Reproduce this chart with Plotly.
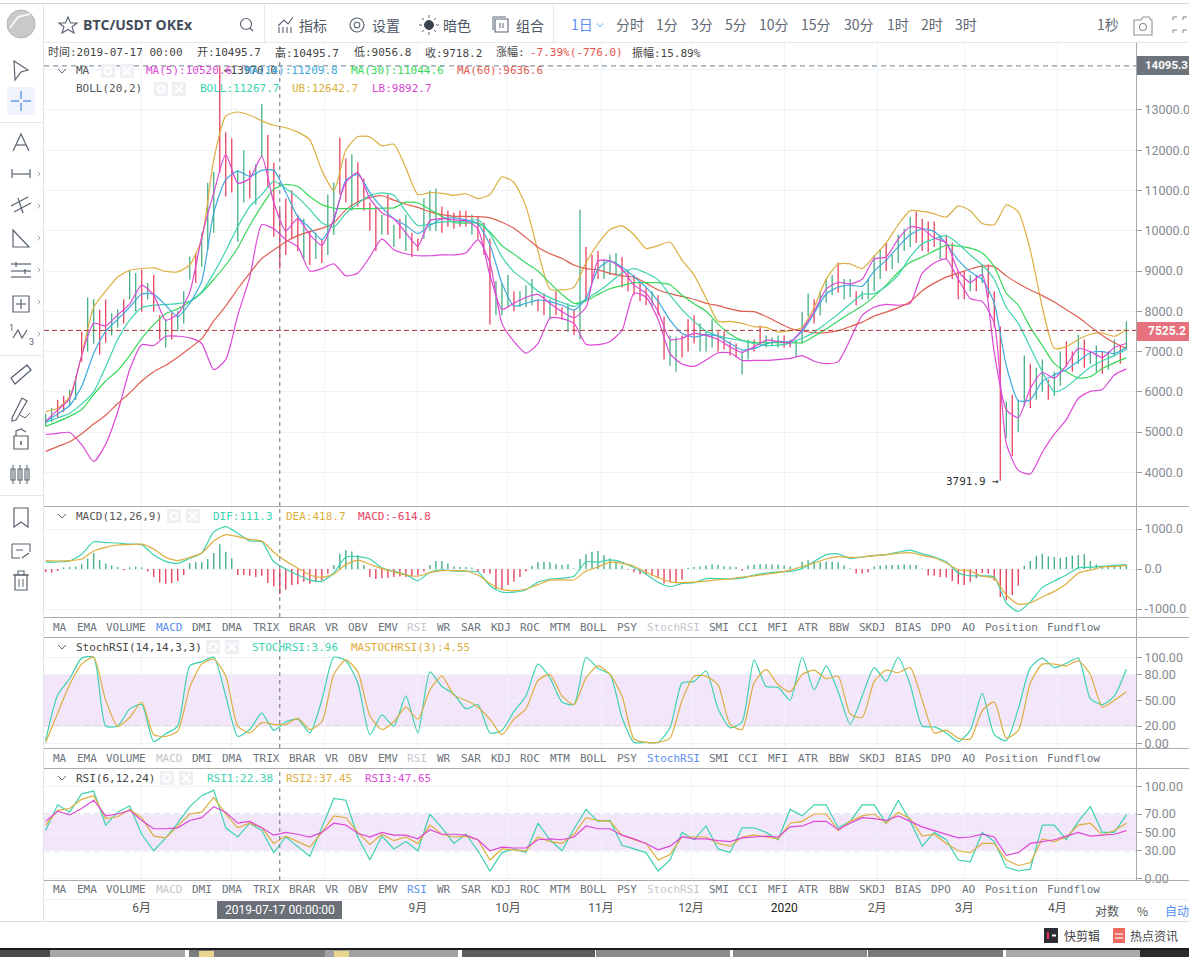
import pandas as pd
import plotly.graph_objects as go

W, H = 1189, 957
MONO = "DejaVu Sans Mono, Noto Sans CJK SC"
SANS = "Roboto, Noto Sans CJK SC"
CJK = "Noto Sans CJK SC, Roboto"

TEAL, GOLD, MAGENTA = "#3cd2b0", "#dcae3e", "#dd48d6"
BLUE, GREEN, REDLINE = "#3fa9dc", "#3ad75a", "#e05f52"
UP, DOWN = "#45b083", "#e8435e"
ICON = "#5a6370"

#--- lines every 4 days, bars every 2 days
line_dates = pd.date_range("2019-04-30", periods=91, freq="4D")
bar_dates = pd.date_range("2019-04-30", periods=181, freq="2D")
month_ticks = ["2019-06-01", "2019-07-01", "2019-08-01", "2019-09-01", "2019-10-01", "2019-11-01",
               "2019-12-01", "2020-01-01", "2020-02-01", "2020-03-01", "2020-04-01"]
month_text = ["6月", "", "", "9月", "10月", "11月", "12月", '<span style="color:#222">2020</span>', "2月", "3月", "4月"]

ma5 = [5260,5550,5830,6900,7700,7640,7910,8180,8650,8400,
       7780,7930,8470,9850,10940,11900,11180,11300,11850,10700,
       10000,10300,9900,9640,10300,11200,11450,10800,10450,10300,
       9950,9620,10250,10300,10270,10250,10050,8900,8050,8200,
       8350,8420,8200,7990,7840,8100,9250,9250,9050,8650,
       8450,8000,7300,7330,7450,7400,7300,7120,6980,7120,
       7280,7250,7220,7550,8000,8550,8720,8680,8800,9300,
       9350,9800,10100,10050,9820,9700,9000,8720,8910,6970,
       5550,5360,6080,6480,6340,6650,7080,7000,6850,7100,
       7200]
ma14 = [5260,5450,5660,6130,6950,7500,7800,8100,8430,8420,
        8150,7870,8200,8750,10450,11270,11480,11350,11500,11500,
        10950,10350,10070,9780,10250,11250,11400,10950,10580,10300,
        10130,9930,10130,10300,10320,10270,10170,9650,8700,8130,
        8200,8280,8240,8150,8030,8320,9050,9250,9100,8860,
        8600,8250,7780,7450,7360,7420,7380,7200,7040,7080,
        7190,7250,7250,7500,7950,8430,8600,8650,8620,9000,
        9270,9600,9900,10050,9980,9680,9270,8980,8790,8200,
        6650,5780,5800,6260,6420,6550,6760,6970,7000,6950,
        7100]
ma30 = [5140,5260,5390,5560,5930,6270,6530,6900,7330,7670,
        7940,8060,8230,8460,8790,9150,9580,10130,10620,11030,
        11150,11100,10850,10650,10560,10550,10550,10550,10560,10570,
        10710,10690,10530,10360,10210,10190,10190,9970,9630,9420,
        9200,9000,8700,8420,8200,8260,8420,8560,8640,8710,
        8710,8710,8660,8400,8190,8000,7680,7430,7280,7230,
        7220,7220,7220,7220,7380,7560,7760,7950,8130,8370,
        8650,8970,9220,9350,9500,9640,9620,9570,9450,9110,
        8450,8150,7600,7150,6700,6500,6340,6380,6580,6720,
        6850]
ma60 = [4520,4640,4760,4960,5200,5420,5710,5970,6270,6500,
        6660,6860,7080,7320,7760,8130,8560,8950,9310,9520,
        9730,9880,9980,10060,10200,10520,10720,10830,10870,10760,
        10660,10580,10470,10400,10360,10360,10350,10320,10210,10060,
        9830,9590,9430,9310,9150,9060,9030,8940,8880,8850,
        8700,8530,8440,8370,8300,8200,8140,8060,8000,7990,
        7870,7720,7580,7510,7470,7470,7520,7620,7730,7880,
        7980,8090,8240,8510,8700,8850,8950,9050,9120,9110,
        8880,8690,8530,8390,8230,8040,7850,7620,7400,7220,
        7080]
boll = [5240,5350,5470,5700,6000,6620,7300,7780,8090,8150,
        8170,8190,8250,8480,8950,9500,10100,10600,10900,11230,
        11050,10830,10530,10200,10090,10430,10680,10880,10940,10880,
        10480,10130,10160,10220,10220,10240,10270,9930,9350,8980,
        8750,8500,8340,8220,8120,8300,8490,8710,8960,9060,
        8950,8780,8400,8040,7750,7510,7390,7320,7270,7200,
        7150,7160,7210,7330,7480,7700,7930,8180,8420,8440,
        8620,8900,9350,9680,9800,9880,9680,9400,9150,8790,
        8100,7700,7100,6500,6000,6120,6370,6610,6770,6900,
        7050]
boll_up = [5510,5590,5880,6900,8100,8500,8850,9020,9060,9080,
           8990,8980,9150,9800,11760,12850,12950,12870,12730,12620,
           12560,12450,12260,11500,11000,12000,12340,12330,12110,12150,
           11560,10900,10950,10930,10880,10920,10800,10900,11340,11200,
           10600,9500,8550,8530,8600,9210,9680,10030,10120,9900,
           9560,9630,9720,9270,8900,8330,7750,7750,7700,7620,
           7600,7490,7520,7600,8100,8800,9170,9180,9060,9370,
           9700,10150,10500,10480,10420,10340,10620,10500,10180,10150,
           10640,10470,9520,8100,7080,7120,7300,7430,7460,7380,
           7550]
boll_low = [4940,4970,4990,4690,4270,4700,5500,6550,7170,7150,
            7380,7380,7340,7200,6550,6800,7900,8850,10150,10050,
            9780,9600,9000,9060,9180,8880,8950,9350,9800,9530,
            9430,9380,9380,9400,9400,9450,9780,9200,7700,7250,
            6960,7200,7830,7820,7700,7180,7170,7250,7530,8450,
            8350,7800,6950,6690,6630,6790,6970,6970,6780,6780,
            6780,6800,6830,6900,6760,6700,6750,7300,7900,8100,
            8170,8150,8200,8950,9200,9300,8800,8320,8240,7700,
            4720,4050,3960,4500,4950,5310,5840,6010,6060,6420,
            6570]

bar_high = [5450,5600,5800,5900,6050,6400,7500,8340,8300,8040,
            8290,7950,8050,8300,9000,8950,9030,8700,8900,7900,
            7800,7960,8000,8500,9360,9450,9950,11190,11460,14095,
            12450,12300,11510,12000,11500,11650,13150,12380,11690,10520,
            10800,11000,10400,10300,10000,9950,9800,10900,11200,12310,
            11800,11900,11700,11300,10700,10600,10400,10900,10150,10300,
            10400,9950,9800,10800,11000,11050,10600,10500,10450,10500,
            10500,10400,10350,10200,9800,8750,8700,8900,8500,8500,
            8650,8800,8300,8450,8300,8500,8100,8200,8040,10520,
            9600,9400,9500,9300,9400,9450,9350,9000,8900,8700,
            8600,8500,8400,7870,7400,7370,7400,7800,7900,7700,
            7500,7800,7500,7500,7250,7200,7000,7300,7300,7650,
            7400,7350,7400,7400,7300,7300,7990,8440,8300,8500,
            8790,8900,9210,8800,8800,8500,8500,8800,9400,9550,
            9700,9400,9900,10050,10350,10470,10300,10230,10230,9900,
            9900,9700,9000,9000,8900,8900,9160,9160,8500,7620,
            5760,5930,5800,6900,6700,6600,6800,6300,6500,7000,
            7250,7000,7420,7300,7000,7150,7000,7000,7300,7150,
            7750]
bar_low = [5150,5250,5350,5500,5650,5800,6750,7000,7200,6930,
           7220,7400,7600,7700,8300,8000,7990,8300,7990,7300,
           7100,7300,7500,7700,8790,8700,9100,9530,9950,11440,
           10850,10950,9730,10700,10800,10650,11840,11070,9850,9056,
           9400,9800,9500,9300,9150,9300,9200,9400,9900,10900,
           10700,10500,10600,10500,10000,9500,9900,9900,9600,9800,
           9500,9350,9500,9800,10000,10000,9950,10100,10050,10100,
           10100,9900,9800,9400,7670,7900,7900,8100,8000,8100,
           8100,8150,8000,7900,7800,7900,7800,7500,7420,7300,
           8300,8700,8800,8800,8900,8900,8600,8500,8400,8250,
           8150,8100,7900,6800,6650,6500,6850,7000,7200,7000,
           7000,7100,7000,7050,6900,6850,6430,6800,7000,7150,
           7100,7150,7100,7100,7100,6880,7200,7870,7700,7900,
           8210,8400,8460,8300,8350,8150,8300,8300,8500,8800,
           9000,9050,9200,9500,9600,9700,9500,9460,9600,9300,
           9300,8800,8300,8300,8500,8500,8700,8340,7600,3792,
           4850,4400,5000,5640,5600,5800,6000,5800,5900,6150,
           6630,6500,6700,6600,6700,6500,6450,6550,6900,6700,
           7050]
bar_side = ("ggrrggrggr" "rggrggrgrr" "grgggrgggr" "rrggrggrrr" "rrrgrgrggr"
            "rgrrrrgrgr" "grrgggrrrr" "rgrrrgggrg" "ggrrgrrgrg" "rrrgggrrrr"
            "rgrrggrrrg" "ggrrrrggrr" "gggrrgggrg" "ggrggrgggg" "rggggrrrrg"
            "rrrrgrgrrr" "grggrggrgg" "rrgrggrggr" "g")

dif = [170,180,200,370,680,660,650,620,610,350,
       190,140,270,400,930,1060,890,700,680,180,
       0,-150,-280,-310,-100,300,310,250,30,-60,
       -140,-290,-80,-20,-50,-60,-70,-420,-580,-580,
       -520,-330,-250,-230,-180,180,170,230,170,30,
       -130,-330,-440,-360,-340,-240,-240,-250,-230,-150,
       -100,-70,-60,10,190,360,380,260,300,340,
       360,420,470,380,300,180,-100,-170,-170,-200,
       -850,-1060,-820,-460,-300,-150,30,40,70,90,
       111]
dea = [210,200,210,250,450,540,600,610,620,500,
       290,210,290,400,700,860,810,740,700,420,
       200,20,-150,-210,-130,110,220,120,10,-70,
       -150,-180,-90,-40,-40,-50,-150,-360,-510,-540,
       -500,-390,-280,-270,-270,-50,50,170,140,70,
       -80,-210,-320,-340,-330,-300,-270,-250,-200,-170,
       -130,-90,-30,60,150,250,310,290,300,330,
       360,390,410,340,280,150,-20,-50,-180,-230,
       -650,-880,-850,-700,-560,-370,-100,-30,50,60,
       90]
macd_hist = [-80,-90,-50,40,50,60,120,260,400,230,
             130,90,50,-30,40,60,40,-60,-200,-340,
             -370,-350,-300,-150,150,170,170,250,400,620,
             430,270,-150,-150,-170,-200,-170,-350,-440,-630,
             -520,-400,-380,-320,-370,-330,-290,-120,100,380,
             470,440,350,100,-200,-250,-230,-220,-200,-190,
             -200,-190,-150,-60,100,200,200,140,60,50,
             50,40,-60,-100,-110,-500,-520,-400,-320,-200,
             -60,80,170,180,170,120,100,120,20,250,
             370,430,450,350,260,180,90,-20,-80,-130,
             -150,-170,-230,-360,-330,-330,-260,30,50,60,
             90,120,100,70,60,50,-40,90,110,120,
             120,110,110,90,60,40,180,220,190,170,
             180,180,170,90,20,-110,-110,-80,60,90,
             100,100,100,110,100,100,10,-160,-170,-200,
             -210,-300,-380,-400,-320,-230,-100,-110,-290,-700,
             -780,-650,-420,80,200,330,380,320,300,280,
             300,330,350,370,200,120,60,80,90,80,
             100]

stoch = [3,56,75,99,100,20,20,40,45,2,
         11,20,90,95,100,55,8,16,35,15,
         25,28,12,50,100,96,70,10,33,20,
         55,12,83,66,57,40,45,12,15,37,
         55,92,76,48,45,100,87,80,30,1,
         1,1,18,70,72,84,40,18,25,97,
         66,65,50,100,62,90,60,22,55,88,
         72,100,68,20,19,12,2,15,58,10,
         3,40,88,99,88,93,99,52,45,55,
         86]
mastoch = [1,35,68,92,100,50,20,30,48,10,
           8,14,65,92,98,78,20,12,24,22,
           22,29,16,25,80,97,83,32,16,25,
           42,28,62,78,56,50,42,28,10,28,
           40,73,80,55,45,76,90,80,55,5,
           1,1,6,50,78,78,68,22,16,70,
           86,68,60,80,85,75,78,34,30,72,
           85,82,88,50,12,15,6,5,38,48,
           6,15,70,92,92,90,96,80,42,50,
           60]

rsi1 = [52,80,72,92,95,58,72,79,48,30,
        44,60,78,90,96,55,45,60,52,28,
        45,35,24,55,87,85,45,20,46,32,
        40,30,70,55,38,48,30,8,28,32,
        28,60,42,30,54,75,62,63,36,32,
        28,8,20,50,42,57,32,28,55,55,
        50,42,75,68,80,80,55,62,80,80,
        60,85,62,35,50,42,20,18,50,40,
        12,8,10,58,58,42,62,78,50,50,
        69]
rsi2 = [58,74,76,86,90,65,67,75,66,46,
        44,57,70,72,88,70,55,60,55,38,
        46,40,34,50,68,66,50,37,48,41,
        45,38,58,48,45,46,42,20,32,31,
        30,45,40,38,48,66,63,62,47,42,
        38,20,26,45,45,45,38,35,45,47,
        45,43,60,62,70,70,52,62,68,70,
        60,72,65,46,48,38,30,28,38,38,
        20,14,17,43,40,45,58,60,47,52,
        60]
rsi3 = [62,73,69,76,85,68,70,74,63,54,
        54,55,63,66,78,72,60,62,55,47,
        50,48,45,50,60,58,49,45,50,47,
        47,43,53,48,48,47,42,30,34,33,
        33,42,43,42,45,57,54,54,47,43,
        38,31,35,45,43,43,41,40,44,45,
        46,45,56,57,62,62,53,60,66,65,
        63,68,62,56,52,48,44,45,48,45,
        25,28,38,40,42,46,50,46,47,48,
        52]

for s in [ma5, ma14, ma30, ma60, boll, boll_up, boll_low, dif, dea, stoch, mastoch, rsi1, rsi2, rsi3]:
    assert len(s) == len(line_dates), len(s)
assert len(bar_high) == len(bar_low) == len(macd_hist) == len(bar_side) == len(bar_dates)


def px(x):
    return x / W


def py(y):
    return 1 - y / H


def smooth_line(col):
    return dict(color=col, width=1.2, shape="spline", smoothing=0.6)


def sticks(dates, lows, highs, keep, color, yaxis, width):
    # one thin vertical line per kept bar, None breaks the line between bars
    xs, ys = [], []
    for d, lo, hi, k in zip(dates, lows, highs, keep):
        if k:
            xs += [d, d, None]
            ys += [lo, hi, None]
    return go.Scatter(x=xs, y=ys, mode="lines", line=dict(color=color, width=width), yaxis=yaxis)


#--- traces
fig = go.Figure()
fig.add_trace(sticks(bar_dates, bar_low, bar_high, [c == "g" for c in bar_side], UP, "y", 1.3))
fig.add_trace(sticks(bar_dates, bar_low, bar_high, [c == "r" for c in bar_side], DOWN, "y", 1.3))
for vals, col in [(boll_up, GOLD), (boll_low, MAGENTA), (ma60, REDLINE), (ma30, GREEN), (boll, TEAL), (ma14, BLUE), (ma5, MAGENTA)]:
    fig.add_trace(go.Scatter(x=line_dates, y=vals, mode="lines", line=smooth_line(col), yaxis="y"))

zeros = [0] * len(macd_hist)
fig.add_trace(sticks(bar_dates, zeros, macd_hist, [v > 0 for v in macd_hist], UP, "y2", 1.4))
fig.add_trace(sticks(bar_dates, zeros, macd_hist, [v < 0 for v in macd_hist], DOWN, "y2", 1.4))
fig.add_trace(go.Scatter(x=line_dates, y=dif, mode="lines", line=smooth_line(TEAL), yaxis="y2"))
fig.add_trace(go.Scatter(x=line_dates, y=dea, mode="lines", line=smooth_line(GOLD), yaxis="y2"))

fig.add_trace(go.Scatter(x=line_dates, y=stoch, mode="lines", line=smooth_line(TEAL), yaxis="y3"))
fig.add_trace(go.Scatter(x=line_dates, y=mastoch, mode="lines", line=smooth_line(GOLD), yaxis="y3"))

fig.add_trace(go.Scatter(x=line_dates, y=rsi1, mode="lines", line=dict(color=TEAL, width=1.2), yaxis="y4"))
fig.add_trace(go.Scatter(x=line_dates, y=rsi2, mode="lines", line=dict(color=GOLD, width=1.2), yaxis="y4"))
fig.add_trace(go.Scatter(x=line_dates, y=rsi3, mode="lines", line=dict(color=MAGENTA, width=1.2), yaxis="y4"))

#--- page furniture, in window pixels
shapes = []
notes = []


def label(x, y, text, color="#555", size=11, anchor="left", family=MONO, **kw):
    if anchor == "left":
        x -= 2  # annotation box padding
    notes.append(dict(x=px(x), y=py(y), xref="paper", yref="paper", text=text, showarrow=False,
                      xanchor=anchor, yanchor="middle", font=dict(family=family, size=size, color=color), **kw))


def box(x0, y0, x1, y1, fill, layer="above"):
    shapes.append(dict(type="rect", xref="paper", yref="paper", x0=px(x0), x1=px(x1), y0=py(y0), y1=py(y1),
                       fillcolor=fill, line_width=0, layer=layer))


def poly(points, color=ICON, width=1.2, close=False, fill=None):
    d = "M " + " L ".join(f"{px(a):.5f} {py(b):.5f}" for a, b in points) + (" Z" if close else "")
    shapes.append(dict(type="path", xref="paper", yref="paper", path=d, line=dict(color=color, width=width),
                       fillcolor=fill or "rgba(0,0,0,0)", layer="above"))


def ring(cx, cy, r, color=ICON, width=1.2, fill=None):
    shapes.append(dict(type="circle", xref="paper", yref="paper", x0=px(cx - r), x1=px(cx + r), y0=py(cy + r), y1=py(cy - r),
                       line=dict(color=color, width=width), fillcolor=fill or "rgba(0,0,0,0)", layer="above"))


def chevron(cx, cy, r=4, color=ICON):
    poly([(cx - r, cy - r / 2), (cx, cy + r / 2), (cx + r, cy - r / 2)], color, 1)


def legend_buttons(x1, x2, y):
    box(x1 - 7, y - 7, x1 + 7, y + 7, "#eef0f3")
    ring(x1, y, 3.5, "#ffffff", 2)
    box(x2 - 7, y - 7, x2 + 7, y + 7, "#eef0f3")
    poly([(x2 - 4, y - 4), (x2 + 4, y + 4)], "#ffffff", 2)
    poly([(x2 - 4, y + 4), (x2 + 4, y - 4)], "#ffffff", 2)


#--- bands and dashed levels sit on the data axes
for yref, lo, hi in [("y3", 20, 80), ("y4", 30, 70)]:
    shapes.append(dict(type="rect", xref="x domain", yref=yref, x0=0, x1=1, y0=lo, y1=hi, fillcolor="#f3e6fb", line_width=0, layer="below"))
    for lev in (lo, hi):
        shapes.append(dict(type="line", xref="x domain", yref=yref, x0=0, x1=1, y0=lev, y1=lev,
                           line=dict(color="#c9c0cc", width=1, dash="6px,4px"), layer="below"))
shapes.append(dict(type="line", xref="x domain", yref="y", x0=0, x1=1, y0=14095.3, y1=14095.3, line=dict(color="#6b7f90", width=1, dash="5px,4px")))
shapes.append(dict(type="line", xref="x domain", yref="y", x0=0, x1=1, y0=7525.2, y1=7525.2, line=dict(color="#a83a3a", width=1, dash="5px,3px")))
for yref in ("y", "y2", "y3", "y4"):
    shapes.append(dict(type="line", xref="x", yref=yref + " domain", x0="2019-07-17", x1="2019-07-17", y0=0, y1=1,
                       line=dict(color="#666c75", width=1, dash="4px,4px")))

#--- frame lines
box(0, 3, W, 4, "#d4d6d9")
box(44, 42, W, 43, "#e6e8eb")
box(43, 4, 44, 921, "#e1e4e8")
box(264, 4, 265, 42, "#e6e8eb")
box(553, 4, 554, 42, "#e6e8eb")
box(1136, 43, 1137, 880, "#a8a8a8")
for yy in (506, 617, 637, 748, 768, 880):
    box(44, yy, W, yy + 1, "#ababab")
box(44, 899, W, 900, "#eceef0")
box(0, 921, W, 922, "#dcdee0")
box(0, 122, 43, 123, "#e6e8eb")
box(0, 355, 43, 356, "#e6e8eb")
box(0, 495, 43, 496, "#e6e8eb")

#--- task bar along the bottom of the window
box(0, 948, W, 950, "#1a1a1a")
for a, b, c in [(0, 50, "#4a4a4a"), (50, 185, "#a6a6a6"), (189, 325, "#7c7c7c"), (325, 458, "#a0a0a0"), (462, 595, "#5c5c5c"),
                (596, 730, "#8a8a8a"), (733, 867, "#8a8a8a"), (868, 1003, "#7a7a7a"), (1006, 1140, "#a8a8a8"), (1140, W, "#2e2a2a")]:
    box(a, 950, b, H, c)
box(199, 951, 214, H, "#e8d690")
box(334, 951, 349, H, "#e8d690")

#--- top bar
ring(21, 24, 14, "#b5b5b5", 1, "#c9c9c9")
poly([(10, 28), (18, 17), (30, 14)], "#f4f4f4", 2)
poly([(68, 17), (70.5, 23), (77, 23), (72, 27), (74, 33), (68, 29.5), (62, 33), (64, 27), (59, 23), (65.5, 23)], "#5a6370", 1.1, close=True)
label(83, 25, "<b>BTC/USDT OKEx</b>", "#434c5a", 14, family="Open Sans")
ring(246, 24, 5.5, "#5a6370", 1.2)
poly([(250, 28), (253, 31)], "#5a6370", 1.2)

poly([(278, 26), (284, 20), (288, 24), (293, 17)], ICON, 1.1)
for xx in (279, 283, 287, 291):
    poly([(xx, 33), (xx, 27)], ICON, 1.1)
ring(357, 25, 7, ICON, 1.2)
ring(357, 25, 2.8, ICON, 1.1)
ring(429, 25, 4.5, "#3a4250", 1, "#3a4250")
for a, b, c, d in [(429, 15, 429, 18), (429, 32, 429, 35), (419, 25, 422, 25), (436, 25, 439, 25),
                   (422, 18, 424, 20), (434, 30, 436, 32), (422, 32, 424, 30), (434, 20, 436, 18)]:
    poly([(a, b), (c, d)], ICON, 1)
poly([(495, 19), (508, 19), (508, 32), (495, 32)], ICON, 1.1, close=True)
poly([(493, 30), (493, 17), (506, 17)], ICON, 1)
poly([(500, 23), (500, 28)], ICON, 1)
poly([(503, 23), (503, 28)], ICON, 1)

for xx, tx in [(299, "指标"), (372, "设置"), (443, "暗色"), (516, "组合")]:
    label(xx, 25, tx, "#4d5663", 14, family=CJK)
label(571, 24, "1日", "#5b8ff0", 14, family=CJK)
chevron(600, 25, 3, "#5b8ff0")
for xx, tx in [(616, "分时"), (656, "1分"), (691, "3分"), (725, "5分"), (759, "10分"), (801, "15分"), (844, "30分"),
               (887, "1时"), (921, "2时"), (955, "3时"), (1097, "1秒")]:
    label(xx, 24, tx, "#5f6873", 14, family=CJK)
poly([(1134, 20), (1141, 20), (1143, 17), (1149, 17), (1151, 20), (1152, 20), (1152, 35), (1134, 35)], "#8a9099", 1.1, close=True)
ring(1143, 27, 3.5, "#8a9099", 1.1)
for a, b in [(1173, 17), (1183, 17), (1173, 30), (1183, 30)]:
    poly([(a, b + 3), (a, b), (a + 4, b)], "#7c838c", 1)

#--- info row
for xx, tx in [(48, "时间:2019-07-17 00:00"), (197, "开:10495.7"), (275, "高:10495.7"), (354, "低:9056.8"),
               (425, "收:9718.2"), (496, "涨幅:"), (632, "振幅:15.89%")]:
    label(xx, 53, tx, "#444")
label(530, 53, "-7.39%(-776.0)", "#e5534b")

#--- indicator legends
chevron(62, 71)
label(76, 71, "MA", "#555")
legend_buttons(108, 127, 71)
label(224, 71, "←13970.0", "#444")
label(146, 71, "MA(5):10520.6", MAGENTA)
label(245, 71, "MA(14):11209.8", BLUE)
label(351, 71, "MA(30):11044.6", GREEN)
label(457, 71, "MA(60):9636.6", REDLINE)
label(76, 89, "BOLL(20,2)", "#555")
legend_buttons(161, 179, 89)
label(200, 89, "BOLL:11267.7", TEAL)
label(292, 89, "UB:12642.7", GOLD)
label(372, 89, "LB:9892.7", MAGENTA)

chevron(62, 516)
label(76, 516, "MACD(12,26,9)", "#555")
legend_buttons(174, 193, 516)
label(213, 516, "DIF:111.3", TEAL)
label(286, 516, "DEA:418.7", GOLD)
label(358, 516, "MACD:-614.8", DOWN)

chevron(62, 647)
label(76, 647, "StochRSI(14,14,3,3)", "#444")
legend_buttons(213, 232, 647)
label(252, 647, "STOCHRSI:3.96", TEAL)
label(351, 647, "MASTOCHRSI(3):4.55", GOLD)

chevron(62, 778)
label(76, 778, "RSI(6,12,24)", "#444")
legend_buttons(167, 186, 778)
label(207, 778, "RSI1:22.38", TEAL)
label(286, 778, "RSI2:37.45", GOLD)
label(365, 778, "RSI3:47.65", MAGENTA)

label(946, 481, "3791.9 →", "#333")

#--- indicator tab rows
tab_names = ["MA", "EMA", "VOLUME", "MACD", "DMI", "DMA", "TRIX", "BRAR", "VR", "OBV", "EMV", "RSI", "WR", "SAR", "KDJ", "ROC",
             "MTM", "BOLL", "PSY", "StochRSI", "SMI", "CCI", "MFI", "ATR", "BBW", "SKDJ", "BIAS", "DPO", "AO", "Position", "Fundflow"]
tab_x = [60, 87, 126, 169, 202, 232, 266, 302, 332, 358, 388, 417, 444, 471, 501, 530,
         560, 593, 627, 673, 719, 748, 778, 808, 839, 872, 908, 941, 968, 1011, 1073]
tab_rows = [(627, {"MACD": "#5b8ff0", "RSI": "#c4c6ca", "StochRSI": "#c4c6ca"}),
            (758, {"MACD": "#c4c6ca", "RSI": "#c4c6ca", "StochRSI": "#5b8ff0"}),
            (889, {"MACD": "#c4c6ca", "RSI": "#5b8ff0", "StochRSI": "#c4c6ca"})]
for yy, special in tab_rows:
    for name, xx in zip(tab_names, tab_x):
        label(xx, yy, name, special.get(name, "#6b727c"), anchor="center")

#--- price tags
box(1137, 56, W, 75, "#6e747c")
label(1145, 65, "<b>14095.3</b>", "#ffffff", 11.5, family=SANS)
box(1137, 322, W, 341, "#e5727c")
label(1148, 331, "<b>7525.2</b>", "#ffffff", 12, family=SANS)
box(217, 901, 342, 919, "#6b7078")
label(279.5, 910, "2019-07-17 00:00:00", "#ffffff", 12, anchor="center", family=SANS)

#--- bottom right
label(1095, 910, "对数", "#555", 12, family=CJK)
label(1137, 910, "%", "#555", 12, family=CJK)
label(1165, 910, "自动", "#4f8ff0", 12, family=CJK)
box(1044, 928, 1058, 943, "#2d2d33")
poly([(1048, 932), (1048, 939)], "#e8354f", 2)
poly([(1052, 935.5), (1056, 935.5)], "#ffffff", 2)
label(1064, 935, "快剪辑", "#444", 12, family=CJK)
box(1113, 928, 1125, 943, "#f0695f")
poly([(1115, 934), (1123, 934)], "#ffffff", 1.2)
poly([(1115, 938), (1123, 938)], "#ffffff", 1.2)
label(1130, 935, "热点资讯", "#444", 12, family=CJK)

#--- left tool column
poly([(14, 61), (28, 70), (21, 72), (15, 80)], ICON, 1.2, close=True)
box(7, 87, 35, 115, "#f0f3fa")
for a, b, c, d in [(11, 101, 19, 101), (23, 101, 31, 101), (21, 91, 21, 99), (21, 103, 21, 111)]:
    poly([(a, b), (c, d)], "#4f8ff0", 1.3)
poly([(13, 151), (21, 134), (29, 151)], ICON, 1.2)
poly([(16, 145), (26, 145)], ICON, 1.2)
poly([(12, 169), (12, 178)], ICON, 1.2)
poly([(12, 174), (30, 174)], ICON, 1.2)
poly([(30, 169), (30, 178)], ICON, 1.2)
poly([(11, 206), (28, 197)], ICON, 1.2)
poly([(14, 212), (31, 203)], ICON, 1.2)
poly([(18, 198), (23, 213)], ICON, 1.2)
poly([(13, 230), (29, 247), (13, 247)], ICON, 1.2, close=True)
for yy in (264, 271, 277):
    poly([(11, yy), (31, yy)], ICON, 1.2)
poly([(16, 262), (16, 267)], ICON, 1.2)
poly([(25, 269), (25, 274)], ICON, 1.2)
poly([(13, 296), (29, 296), (29, 312), (13, 312)], ICON, 1.2, close=True)
poly([(21, 299), (21, 309)], ICON, 1.2)
poly([(16, 304), (26, 304)], ICON, 1.2)
poly([(13, 338), (18, 330), (22, 338), (27, 330)], ICON, 1.2)
poly([(11, 378), (27, 365), (31, 370), (15, 384)], ICON, 1.3, close=True)
poly([(12, 418), (22, 398), (27, 401), (16, 420), (12, 421)], ICON, 1.2, close=True)
poly([(20, 415), (25, 418), (30, 413)], ICON, 1)
poly([(14, 436), (28, 436), (28, 449), (14, 449)], ICON, 1.2, close=True)
poly([(16, 436), (16, 431), (21, 429), (26, 432)], ICON, 1.2)
poly([(21, 441), (21, 445)], ICON, 1.5)
for xx in (13, 20, 27):
    poly([(xx - 2, 469), (xx + 2, 469), (xx + 2, 480), (xx - 2, 480)], ICON, 1.1, close=True)
    poly([(xx, 465), (xx, 484)], ICON, 1)
poly([(14, 508), (28, 508), (28, 527), (21, 522), (14, 527)], ICON, 1.2, close=True)
poly([(12, 544), (30, 544), (30, 552)], ICON, 1.1)
poly([(12, 544), (12, 558), (20, 558)], ICON, 1.1)
poly([(16, 550), (23, 550)], ICON, 1)
poly([(22, 558), (29, 553)], ICON, 1.3)
poly([(15, 575), (27, 575), (27, 590), (15, 590)], ICON, 1.2, close=True)
poly([(13, 575), (29, 575)], ICON, 1.2)
poly([(18, 575), (18, 571), (24, 571), (24, 575)], ICON, 1.1)
poly([(19, 579), (19, 587)], ICON, 1)
poly([(23, 579), (23, 587)], ICON, 1)
for yy in (174, 206, 238, 270, 302, 334):
    poly([(37.5, yy - 2.5), (40, yy), (37.5, yy + 2.5)], "#a5aab0", 1)
label(9, 328, "1", ICON, 9, family=SANS)
label(29, 342, "3", ICON, 9, family=SANS)

grid = "#f0f3f6"
tick_font = dict(family=SANS, size=12.5, color="#868a90")


def price_axis(top, bottom, lo, hi, vals, text):
    return dict(domain=[py(bottom), py(top)], range=[lo, hi], side="right", anchor="x", tickmode="array", tickvals=vals, ticktext=text,
                showgrid=True, gridcolor=grid, gridwidth=1, zeroline=False, showline=False, ticks="outside", ticklen=5,
                tickcolor="#9a9a9a", tickfont=tick_font, fixedrange=True, automargin=False)


price_ticks = [4000, 5000, 6000, 7000, 8000, 9000, 10000, 11000, 12000, 13000, 14000]
price_text = [f"{v}.0" for v in price_ticks[:-1]] + [""]  # the 14000 label sits under the tag
fig.update_layout(
    width=W, height=H, margin=dict(l=0, r=0, t=0, b=0), autosize=False,
    paper_bgcolor="#ffffff", plot_bgcolor="#ffffff", showlegend=False, hovermode=False, dragmode=False,
    xaxis=dict(domain=[px(44), px(1136)], range=["2019-04-29 11:00", "2020-04-27 05:00"], anchor="free", position=py(899),
               type="date", tickmode="array", tickvals=month_ticks, ticktext=month_text, showgrid=True, gridcolor=grid,
               zeroline=False, showline=False, ticks="", tickfont=dict(family=SANS, size=12, color="#555"), fixedrange=True, automargin=False),
    yaxis=price_axis(43, 506, 3164, 14664, price_ticks, price_text),
    yaxis2=price_axis(507, 617, -1200, 1550, [-1000, 0, 1000], ["-1000.0", "0.0", "1000.0"]),
    yaxis3=price_axis(638, 748, -5.5, 122.4, [0, 20, 50, 80, 100], ["0.00", "20.00", "50.00", "80.00", "100.00"]),
    yaxis4=price_axis(769, 880, -1.8, 119, [0, 30, 50, 70, 100], ["0.00", "30.00", "50.00", "70.00", "100.00"]),
    shapes=shapes, annotations=notes,
)

fig.write_html("out.html", config={"displayModeBar": False},
               post_script="document.documentElement.style.overflow='hidden';document.body.style.margin='0';"
                           "document.body.style.overflow='hidden';")
